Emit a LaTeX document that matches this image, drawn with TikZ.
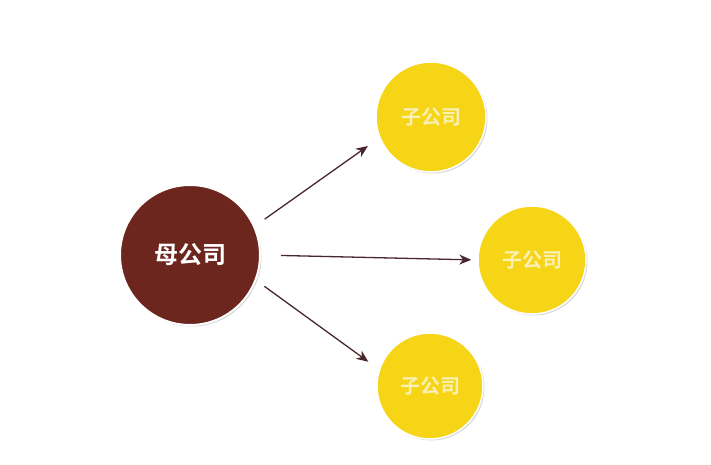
\documentclass[tikz,border=0pt]{standalone}
\usepackage{fontspec}
\newfontfamily\cjk{Noto Sans CJK SC}[BoldFont={Noto Sans CJK SC Bold}]
\usetikzlibrary{arrows.meta,shadows}
\definecolor{parentred}{RGB}{108,38,30}
\definecolor{childyellow}{RGB}{246,212,22}
\definecolor{childtext}{RGB}{250,240,180}
\definecolor{arrowcol}{RGB}{72,40,46}
\tikzset{
  parentnode/.style={circle, fill=parentred, draw=white, line width=2pt, minimum size=140pt, inner sep=0pt,
    text=white, font=\cjk\bfseries\fontsize{24}{24}\selectfont,
    drop shadow={shadow xshift=1.5pt, shadow yshift=-1.5pt, opacity=0.35}},
  childnode/.style={circle, fill=childyellow, draw=white, line width=1.5pt, inner sep=0pt,
    text=childtext, font=\cjk\bfseries\fontsize{20}{20}\selectfont,
    drop shadow={shadow xshift=1.5pt, shadow yshift=-1.5pt, opacity=0.3}},
  link/.style={draw=arrowcol, line width=1.3pt, -{Stealth[length=12pt,width=10pt]}}
}
\begin{document}
\begin{tikzpicture}[x=1pt,y=1pt]
\useasboundingbox (0,0) rectangle (711,464);
\fill[white] (0,0) rectangle (711,464);
\node[parentnode] (p) at (190,209) {母公司};
\node[childnode, minimum size=110pt] (c1) at (431,347) {子公司};
\node[childnode, minimum size=108pt] (c2) at (532,204) {子公司};
\node[childnode, minimum size=106pt] (c3) at (430,78) {子公司};
\draw[link, shorten <=12pt, shorten >=14pt] (p.24) -- (c1.202);
\draw[link, shorten <=20pt, shorten >=6pt] (p.0) -- (c2.180);
\draw[link, shorten <=10pt, shorten >=13pt] (p.-21) -- (c3.162);
\end{tikzpicture}
\end{document}
